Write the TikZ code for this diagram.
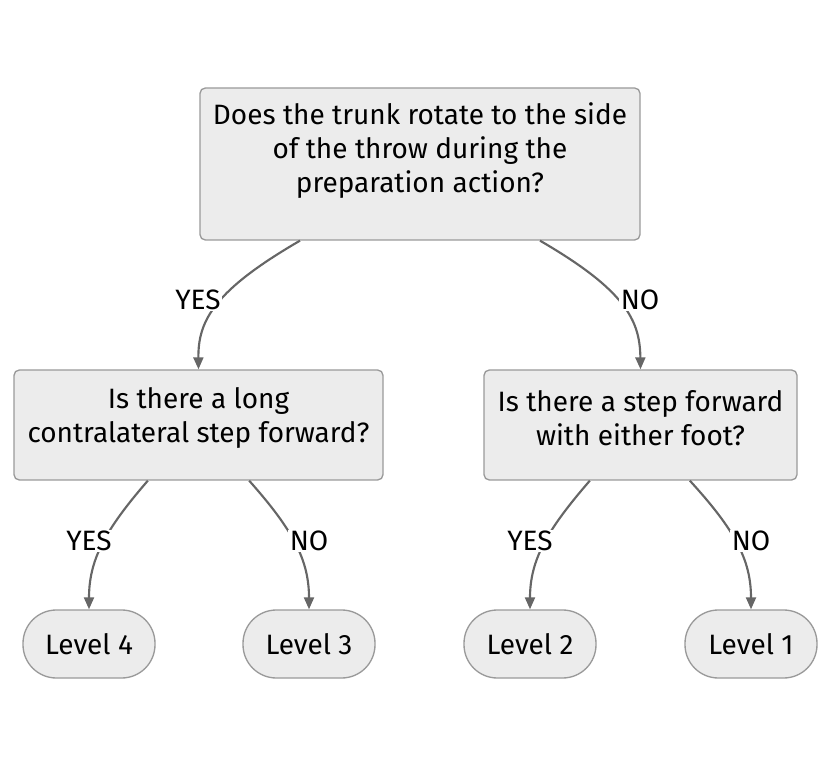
\documentclass[tikz,border=0pt]{standalone}
\usepackage{fontspec}
\setmainfont{Fira Sans}
\usetikzlibrary{arrows.meta}

\definecolor{boxfill}{HTML}{ECECEC}
\definecolor{boxline}{HTML}{9A9A9A}
\definecolor{edgecol}{HTML}{666666}

\begin{document}
\begin{tikzpicture}[x=0.75pt, y=-0.75pt,
    qbox/.style={draw=boxline, fill=boxfill, line width=1pt, rounded corners=4pt, inner sep=0pt},
    qtext/.style={align=center, font=\fontsize{21pt}{25.5pt}\selectfont},
    leaf/.style={draw=boxline, fill=boxfill, line width=1pt, rounded corners=25pt,
        minimum width=99pt, minimum height=51pt, inner sep=0pt, font=\fontsize{21pt}{25.5pt}\selectfont},
    edge/.style={draw=edgecol, line width=1.6pt, -{Triangle[length=9pt, width=7.5pt]}},
    lbl/.style={fill=white, inner sep=1pt, font=\fontsize{21pt}{25.5pt}\selectfont}]
\useasboundingbox (0,0) rectangle (832,766);

% question boxes
\node[qbox, minimum width=330pt, minimum height=114pt] (q0) at (420,164) {};
\node[qtext] (q0t) at (420,151) {Does the trunk rotate to the side\\ of the throw during the\\ preparation action?};
\node[qbox, minimum width=276.75pt, minimum height=82.5pt] (q1) at (198.5,425) {};
\node[qtext] (q1t) at (198.5,418) {Is there a long\\ contralateral step forward?};
\node[qbox, minimum width=234.75pt, minimum height=82.5pt] (q2) at (640.5,425) {};
\node[qtext] (q2t) at (640.5,418) {Is there a step forward\\ with either foot?};

% results
\foreach \n/\x in {4/89, 3/309, 2/530, 1/751} {
    \node[leaf] (l\n) at (\x,644) {\raisebox{0pt}[\height][\depth]{Level \n}};
}

% connectors
\draw[edge] ([xshift=-90pt]q0.south) .. controls (215,290) and (198,320) .. (q1.north);
\draw[edge] ([xshift=90pt]q0.south) .. controls (625,290) and (640,320) .. (q2.north);
\draw[edge] ([xshift=-38pt]q1.south) .. controls (105,530) and (89,560) .. (l4.north);
\draw[edge] ([xshift=38pt]q1.south) .. controls (293,530) and (309,560) .. (l3.north);
\draw[edge] ([xshift=-38pt]q2.south) .. controls (547,530) and (530,560) .. (l2.north);
\draw[edge] ([xshift=37pt]q2.south) .. controls (735,530) and (751,560) .. (l1.north);

% edge labels
\node[lbl] (y0) at (198,300) {YES};
\node[lbl] (n0) at (640,300) {NO};
\node[lbl] (y1) at (89,541) {YES};
\node[lbl] (n1) at (309,541) {NO};
\node[lbl] (y2) at (530,541) {YES};
\node[lbl] (n2) at (751,541) {NO};
\end{tikzpicture}
\end{document}
